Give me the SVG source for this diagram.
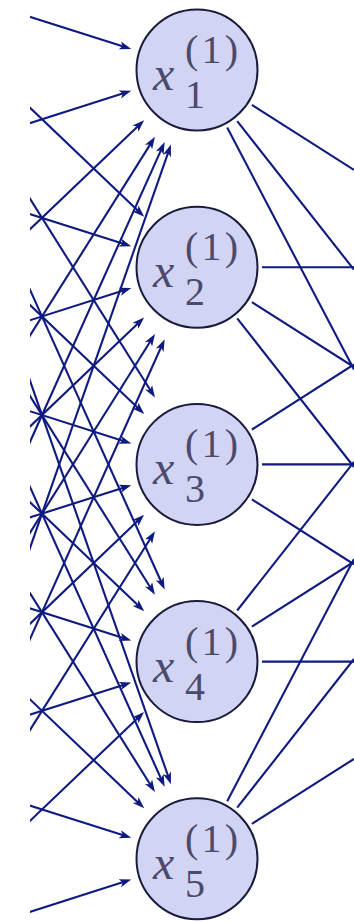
<svg xmlns="http://www.w3.org/2000/svg" width="354" height="922" viewBox="0 0 354 922">
<style>
.c{fill:none;stroke:#0e1a80;stroke-width:2.1}
.a{marker-end:url(#ah)}
.n circle{fill:#d2d4f4;stroke:#1a1a3c;stroke-width:2}
.n text{font-family:"Liberation Serif","Times New Roman",serif;fill:#4a4a6c}
.x{font-style:italic;font-size:48px}
.s{font-size:40px}
</style>
<defs>
<marker id="ah" viewBox="0 -5 12 10" markerWidth="12" markerHeight="10" refX="7" refY="0" orient="auto" markerUnits="userSpaceOnUse">
<path d="M0,-4.2 L12,0 L0,4.2 L3,0 z" fill="#0e1a80"/>
</marker>
<clipPath id="cl"><rect x="30" y="0" width="324" height="922"/></clipPath>
</defs>
<rect width="354" height="922" fill="#fff"/>
<g id="connectors" clip-path="url(#cl)">
<g class="c a">
<line x1="-113" y1="-28.6" x2="126.5" y2="47.5"/>
<line x1="-113" y1="168.6" x2="126.5" y2="92.3"/>
<line x1="-113" y1="365.8" x2="140.5" y2="123.8"/>
<line x1="-113" y1="563" x2="152.3" y2="141.1"/>
<line x1="-113" y1="760.2" x2="162.6" y2="146.6"/>
<line x1="-113" y1="957.4" x2="169.3" y2="149.3"/>
<line x1="-113" y1="-28.6" x2="140.6" y2="213.3"/>
<line x1="-113" y1="168.6" x2="126.5" y2="244.7"/>
<line x1="-113" y1="365.8" x2="126.5" y2="289.5"/>
<line x1="-113" y1="563" x2="140.5" y2="321"/>
<line x1="-113" y1="760.2" x2="152.3" y2="338.3"/>
<line x1="-113" y1="957.4" x2="162.6" y2="343.8"/>
<line x1="-113" y1="-28.6" x2="152.3" y2="393.3"/>
<line x1="-113" y1="168.6" x2="140.6" y2="410.5"/>
<line x1="-113" y1="365.8" x2="126.5" y2="441.9"/>
<line x1="-113" y1="563" x2="126.5" y2="486.7"/>
<line x1="-113" y1="760.2" x2="140.5" y2="518.2"/>
<line x1="-113" y1="957.4" x2="152.3" y2="535.5"/>
<line x1="-113" y1="-28.6" x2="162.6" y2="585"/>
<line x1="-113" y1="168.6" x2="152.3" y2="590.5"/>
<line x1="-113" y1="365.8" x2="140.6" y2="607.7"/>
<line x1="-113" y1="563" x2="126.5" y2="639.1"/>
<line x1="-113" y1="760.2" x2="126.5" y2="683.9"/>
<line x1="-113" y1="957.4" x2="140.5" y2="715.4"/>
<line x1="-113" y1="-28.6" x2="169.3" y2="779.5"/>
<line x1="-113" y1="168.6" x2="162.6" y2="782.2"/>
<line x1="-113" y1="365.8" x2="152.3" y2="787.7"/>
<line x1="-113" y1="563" x2="140.6" y2="804.9"/>
<line x1="-113" y1="760.2" x2="126.5" y2="836.3"/>
<line x1="-113" y1="957.4" x2="126.5" y2="881.1"/>
</g>
<g class="c">
<line x1="251.9" y1="104.9" x2="354" y2="169.9"/>
<line x1="237.2" y1="121.1" x2="354" y2="269.7"/>
<line x1="227.2" y1="127.6" x2="354" y2="369.6"/>
<line x1="262" y1="267.2" x2="354" y2="267.2"/>
<line x1="251.9" y1="302.1" x2="354" y2="367.1"/>
<line x1="237.2" y1="318.3" x2="354" y2="467"/>
<line x1="251.9" y1="429.5" x2="354" y2="364.5"/>
<line x1="262" y1="464.4" x2="354" y2="464.4"/>
<line x1="251.9" y1="499.3" x2="354" y2="564.3"/>
<line x1="237.2" y1="610.5" x2="354" y2="461.8"/>
<line x1="251.9" y1="626.7" x2="354" y2="561.7"/>
<line x1="262" y1="661.6" x2="354" y2="661.6"/>
<line x1="227.2" y1="801.2" x2="354" y2="559.1"/>
<line x1="237.2" y1="807.7" x2="354" y2="659"/>
<line x1="251.9" y1="823.9" x2="354" y2="758.9"/>
</g>
</g>
<g id="node1" class="n"><circle cx="197" cy="70" r="60.5"/><text class="x" x="153" y="90">x</text><text class="s" x="185" y="108">1</text><text class="s" x="185" y="63" textLength="53" lengthAdjust="spacing">(1)</text></g>
<g id="node2" class="n"><circle cx="197" cy="267.2" r="60.5"/><text class="x" x="153" y="287.2">x</text><text class="s" x="185" y="305.2">2</text><text class="s" x="185" y="260.2" textLength="53" lengthAdjust="spacing">(1)</text></g>
<g id="node3" class="n"><circle cx="197" cy="464.4" r="60.5"/><text class="x" x="153" y="484.4">x</text><text class="s" x="185" y="502.4">3</text><text class="s" x="185" y="457.4" textLength="53" lengthAdjust="spacing">(1)</text></g>
<g id="node4" class="n"><circle cx="197" cy="661.6" r="60.5"/><text class="x" x="153" y="681.6">x</text><text class="s" x="185" y="699.6">4</text><text class="s" x="185" y="654.6" textLength="53" lengthAdjust="spacing">(1)</text></g>
<g id="node5" class="n"><circle cx="197" cy="858.8" r="60.5"/><text class="x" x="153" y="878.8">x</text><text class="s" x="185" y="896.8">5</text><text class="s" x="185" y="851.8" textLength="53" lengthAdjust="spacing">(1)</text></g>
</svg>
